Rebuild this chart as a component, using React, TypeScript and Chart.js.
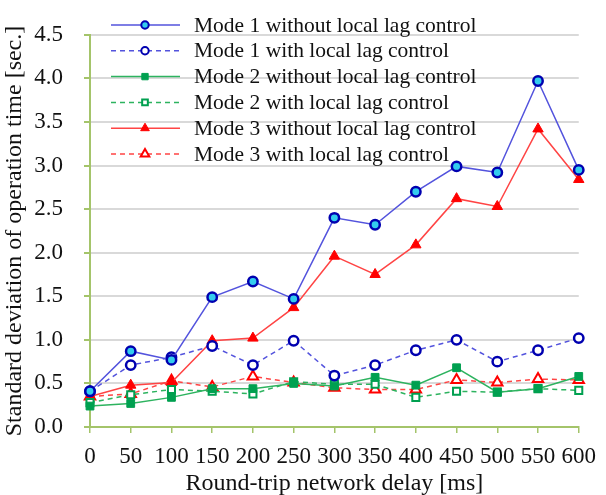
import React, { useEffect, useRef } from "react";
import { Chart, registerables } from "chart.js";
import { drawPoint } from "chart.js/helpers";

Chart.register(...registerables);

const delays = ["0", "50", "100", "150", "200", "250", "300", "350", "400", "450", "500", "550", "600"];

const mode1Without = [0.41, 0.87, 0.77, 1.49, 1.67, 1.47, 2.4, 2.32, 2.7, 2.99, 2.92, 3.97, 2.95];
const mode1With = [0.41, 0.71, 0.8, 0.93, 0.71, 0.99, 0.59, 0.71, 0.88, 1.0, 0.75, 0.88, 1.02];
const mode2Without = [0.24, 0.27, 0.34, 0.44, 0.44, 0.5, 0.47, 0.57, 0.48, 0.68, 0.4, 0.44, 0.58];
const mode2With = [0.28, 0.37, 0.43, 0.41, 0.38, 0.52, 0.49, 0.49, 0.34, 0.41, 0.4, 0.44, 0.42];
const mode3Without = [0.35, 0.48, 0.51, 0.99, 1.02, 1.37, 1.96, 1.75, 2.09, 2.62, 2.53, 3.42, 2.84];
const mode3With = [0.35, 0.38, 0.53, 0.46, 0.58, 0.51, 0.45, 0.43, 0.43, 0.54, 0.51, 0.55, 0.54];

const seriesNames = [
  "Mode 1 without local lag control",
  "Mode 1 with local lag control",
  "Mode 2 without local lag control",
  "Mode 2 with local lag control",
  "Mode 3 without local lag control",
  "Mode 3 with local lag control",
];

const yTicks = ["0.0", "0.5", "1.0", "1.5", "2.0", "2.5", "3.0", "3.5", "4.0", "4.5"];
const xTitle = "Round-trip network delay [ms]";
const yTitle = "Standard deviation of operation time [sec.]";

const FONT = "'Liberation Serif', 'Times New Roman', serif";
const BLUE_LINE = "#5353DD";
const BLUE_MARK = "#0000B0";
const GREEN = "#2DB35F";
const GREEN_MARK = "#00A050";
const RED = "#FF4444";
const RED_MARK = "#FF0000";
const AXIS_GREEN = "#A4C46A";

const legendPlugin = {
  id: "insideLegend",
  beforeDatasetsDraw(chart: any) {
    const ctx = chart.ctx;
    ctx.save();
    chart.data.datasets.forEach((ds: any, i: number) => {
      const y = 25 + i * 25.8;
      const x0 = 111;
      const x1 = 180;
      ctx.strokeStyle = ds.borderColor;
      ctx.lineWidth = ds.borderWidth;
      ctx.setLineDash(ds.borderDash || []);
      ctx.beginPath();
      ctx.moveTo(x0, y);
      ctx.lineTo(x1, y);
      ctx.stroke();
      ctx.setLineDash([]);
      ctx.fillStyle = ds.pointBackgroundColor;
      ctx.strokeStyle = ds.pointBorderColor;
      ctx.lineWidth = Math.min(ds.pointBorderWidth, 2);
      drawPoint(ctx, { pointStyle: ds.pointStyle, radius: ds.pointRadius - 1, rotation: 0, borderWidth: ds.pointBorderWidth }, 145, y);
      ctx.fillStyle = "#111";
      ctx.font = `21.5px ${FONT}`;
      ctx.textBaseline = "middle";
      ctx.textAlign = "left";
      ctx.fillText(ds.label, 194, y + 1);
    });
    ctx.restore();
  },
  afterDraw(chart: any) {
    const ctx = chart.ctx;
    ctx.save();
    ctx.translate(15, 231);
    ctx.rotate(-Math.PI / 2);
    ctx.fillStyle = "#111";
    ctx.font = `24px ${FONT}`;
    ctx.textAlign = "center";
    ctx.textBaseline = "middle";
    ctx.fillText(yTitle, 0, 0);
    ctx.restore();
  },
};

export default function App() {
  const ref = useRef<HTMLCanvasElement | null>(null);

  useEffect(() => {
    document.body.style.margin = "0";
    const canvas = ref.current;
    if (!canvas) return;
    const mk = (
      label: string,
      data: number[],
      line: string,
      dashed: boolean,
      style: string,
      bg: string,
      border: string,
      radius: number,
      bw: number
    ) => ({
      label,
      data,
      borderColor: line,
      borderWidth: 1.5,
      borderDash: dashed ? [5, 4] : [],
      pointStyle: style,
      pointBackgroundColor: bg,
      pointBorderColor: border,
      pointBorderWidth: bw,
      pointRadius: radius,
      pointHoverRadius: radius,
      fill: false,
      tension: 0,
      clip: false,
    });
    const chart = new Chart(canvas, {
      type: "line",
      data: {
        labels: delays,
        datasets: [
          mk(seriesNames[0], mode1Without, BLUE_LINE, false, "circle", "#33CCEE", BLUE_MARK, 4.7, 2.5),
          mk(seriesNames[1], mode1With, BLUE_LINE, true, "circle", "#FFFFFF", BLUE_MARK, 4.7, 2.5),
          mk(seriesNames[2], mode2Without, GREEN, false, "rect", GREEN_MARK, GREEN_MARK, 5.5, 1),
          mk(seriesNames[3], mode2With, GREEN, true, "rect", "#FFFFFF", GREEN_MARK, 5, 2),
          mk(seriesNames[4], mode3Without, RED, false, "triangle", RED_MARK, RED_MARK, 6, 1),
          mk(seriesNames[5], mode3With, RED, true, "triangle", "#FFFFFF", RED_MARK, 6, 2),
        ],
      },
      options: {
        responsive: false,
        animation: false,
        layout: { padding: { top: 17, right: 21, left: 0, bottom: 0 } },
        plugins: { legend: { display: false }, tooltip: { enabled: false } },
        scales: {
          x: {
            type: "category",
            offset: false,
            grid: {
              drawOnChartArea: false,
              tickLength: 6,
              tickColor: AXIS_GREEN,
              lineWidth: 1.5,
            },
            border: { color: AXIS_GREEN, width: 2 },
            ticks: {
              color: "#111",
              font: { family: FONT, size: 23 },
              padding: 10,
              maxRotation: 0,
              autoSkip: false,
            },
            title: {
              display: true,
              text: xTitle,
              color: "#111",
              font: { family: FONT, size: 24, lineHeight: 0.9 },
              padding: { top: 0, bottom: 0 },
            },
            afterFit(scale: any) {
              scale.height = 68;
            },
          },
          y: {
            min: 0,
            max: 4.5,
            ticks: {
              stepSize: 0.5,
              color: "#111",
              font: { family: FONT, size: 23 },
              padding: 21,
              callback: (_v: any, i: number) => yTicks[i],
            },
            grid: {
              color: "#D9D9D9",
              lineWidth: 2,
              tickLength: 6,
              tickColor: AXIS_GREEN,
            },
            border: { color: AXIS_GREEN, width: 2 },
            title: { display: false },
            afterFit(scale: any) {
              scale.width = 90;
            },
          },
        },
      },
      plugins: [legendPlugin],
    } as any);
    return () => chart.destroy();
  }, []);

  return (
    <div style={{ width: 606, height: 495 }}>
      <canvas ref={ref} width={606} height={495} style={{ width: 606, height: 495, display: "block" }} />
    </div>
  );
}
